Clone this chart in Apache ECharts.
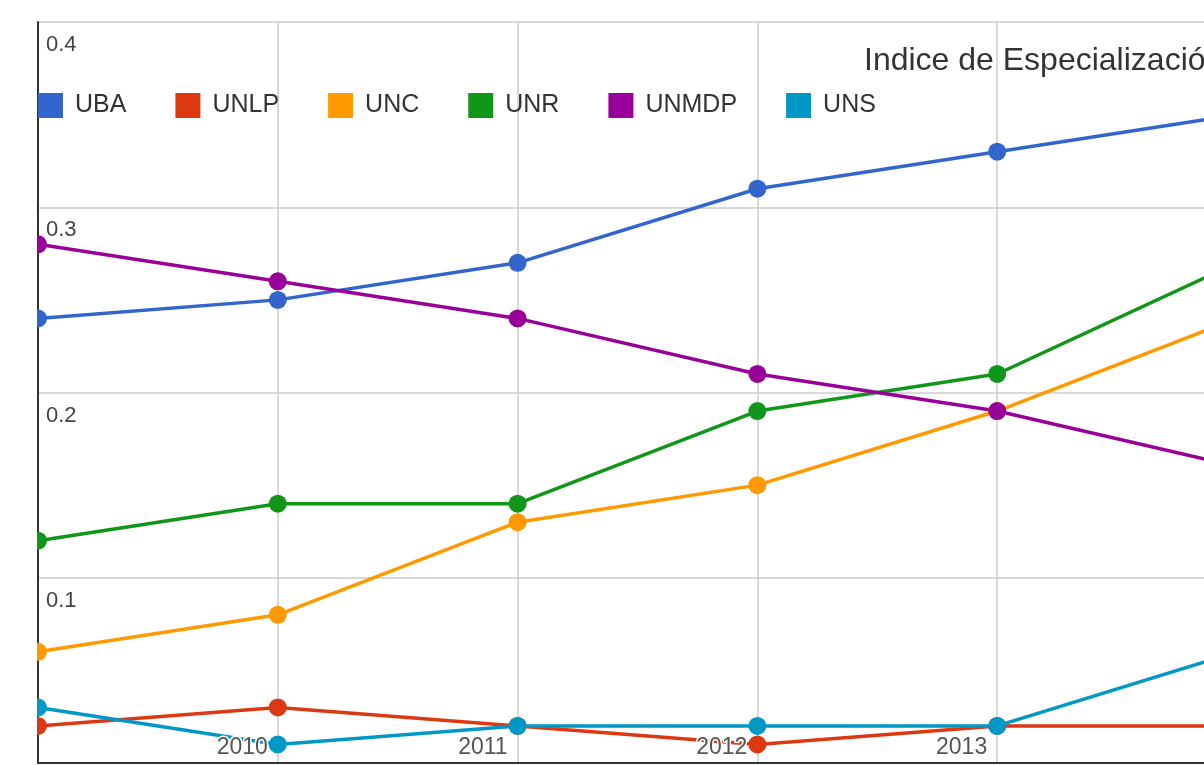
<!DOCTYPE html>
<html>
<head>
<meta charset="utf-8">
<script src="https://cdn.jsdelivr.net/npm/echarts@6/dist/echarts.min.js"></script>
<style>
  html, body { margin: 0; padding: 0; background: #fff; overflow: hidden; }
  /* the plot runs past the right edge of the window, as in the original crop */
  #chart { width: 1237px; height: 765px; }
</style>
</head>
<body>
<div id="chart"></div>
<script>
// years on the x axis (first and last are outside the visible labels)
const years = ['2009', '2010', '2011', '2012', '2013', '2014']
const uba = [0.24, 0.25, 0.27, 0.31, 0.33, 0.35]
const unlp = [0.02, 0.03, 0.02, 0.01, 0.02, 0.02]
const unc = [0.06, 0.08, 0.13, 0.15, 0.19, 0.24]
const unr = [0.12, 0.14, 0.14, 0.19, 0.21, 0.27]
const unmdp = [0.28, 0.26, 0.24, 0.21, 0.19, 0.16]
const uns = [0.03, 0.01, 0.02, 0.02, 0.02, 0.06]
const seriesNames = ['UBA', 'UNLP', 'UNC', 'UNR', 'UNMDP', 'UNS']
const colors = ['#3366cc', '#dc3912', '#ff9900', '#109618', '#990099', '#0099c6']

const font = '"Liberation Sans", Arial, sans-serif'

let makeLine = (name, data, color) => {
  return {
    name: name,
    type: 'line',
    data: data,
    symbol: 'circle',
    symbolSize: 18,
    showAllSymbol: true,
    lineStyle: { color: color, width: 3.5 },
    itemStyle: { color: color }
  }
}

let allData = [uba, unlp, unc, unr, unmdp, uns]

let option = {
  animation: false,
  color: colors,
  title: {
    text: 'Indice de Especialización',
    left: 864,
    top: 45,
    padding: 0,
    textStyle: {
      fontFamily: font,
      fontSize: 32,
      fontWeight: 'normal',
      color: '#333'
    }
  },
  legend: {
    data: seriesNames,
    left: 38,
    top: 93,
    padding: 0,
    itemWidth: 25,
    itemHeight: 25,
    itemGap: 49,
    icon: 'rect',
    selectedMode: false,
    textStyle: {
      fontFamily: font,
      fontSize: 25,
      color: '#333',
      padding: [0, 0, 0, 7]
    }
  },
  grid: {
    left: 38,
    top: 22,
    right: 0,
    bottom: 2
  },
  // white strip left of the axis hides the outer half of the first markers
  graphic: {
    elements: [{
      type: 'rect',
      z: 100,
      zlevel: 1,
      shape: { x: 0, y: 0, width: 37, height: 765 },
      style: { fill: '#fff' }
    }]
  },
  xAxis: [{
    type: 'category',
    data: years,
    boundaryGap: false,
    axisTick: { show: false },
    axisLine: { show: true, lineStyle: { color: '#333', width: 2 } },
    splitLine: { show: true, lineStyle: { color: '#cccccc', width: 1.5 } },
    axisLabel: { show: false }
  }, {
    type: 'category',
    data: years,
    boundaryGap: false,
    position: 'bottom',
    z: 10,
    axisTick: { show: false },
    axisLine: { show: false },
    splitLine: { show: false },
    axisLabel: {
      inside: true,
      interval: function (index) { return index > 0 && index < years.length - 1 },
      align: 'right',
      verticalAlign: 'bottom',
      margin: 4,
      padding: [0, 10, 0, 0],
      fontFamily: font,
      fontSize: 23,
      color: '#555',
      textBorderColor: '#fff',
      textBorderWidth: 3
    }
  }],
  yAxis: {
    type: 'value',
    min: 0,
    max: 0.4,
    interval: 0.1,
    axisTick: { show: false },
    axisLine: { show: true, lineStyle: { color: '#333', width: 2 } },
    splitLine: { show: true, lineStyle: { color: '#cccccc', width: 1.5 } },
    axisLabel: {
      inside: true,
      showMinLabel: false,
      align: 'left',
      verticalAlign: 'top',
      margin: 8,
      padding: [12, 0, 0, 0],
      fontFamily: font,
      fontSize: 22,
      color: '#444'
    }
  },
  series: seriesNames.map((name, i) => makeLine(name, allData[i], colors[i]))
}

let chart = echarts.init(document.getElementById('chart'))
chart.setOption(option)
</script>
</body>
</html>
